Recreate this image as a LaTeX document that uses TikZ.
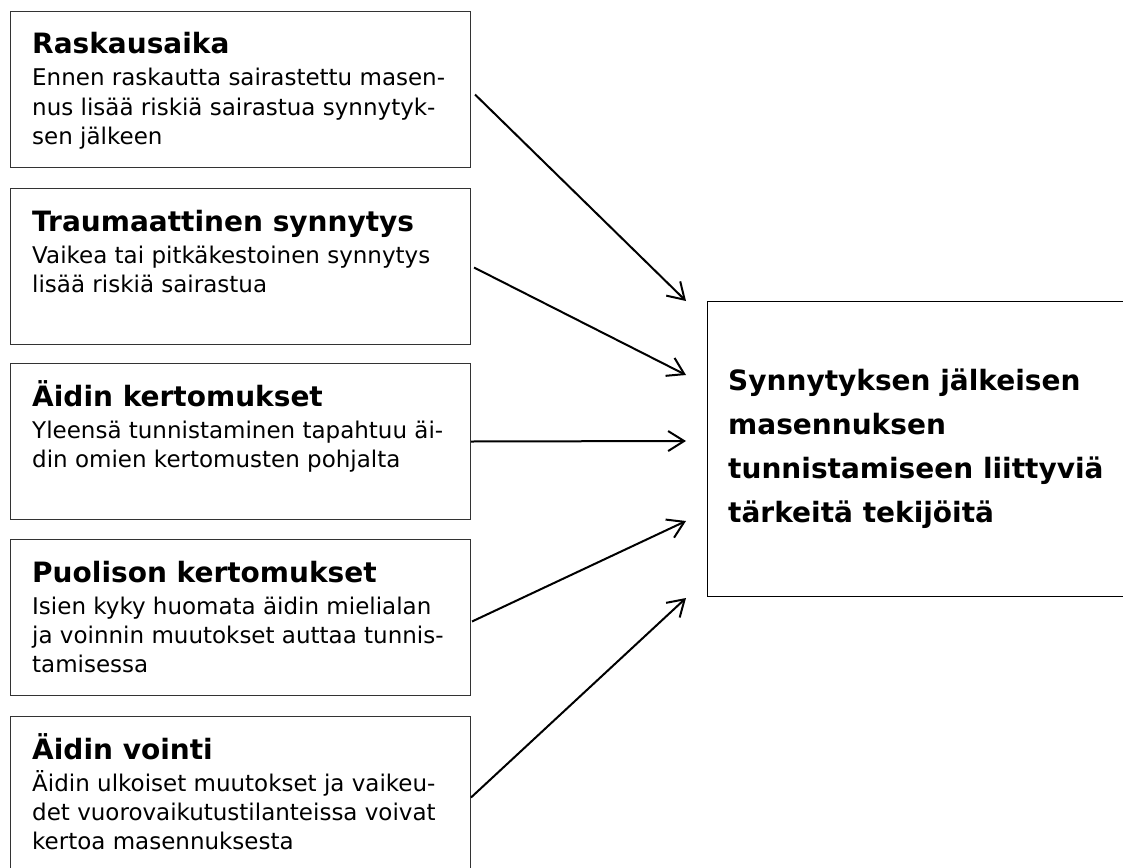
\documentclass[tikz,border=0pt]{standalone}
\usepackage{fontspec}
\setmainfont{DejaVu Sans}
\usetikzlibrary{arrows.meta}
\newcommand\tline[1]{\hbox{#1}}
\newcommand\headfont{\fontsize{28}{32}\selectfont\bfseries}
\newcommand\bodyfont{\fontsize{23}{29}\selectfont}
\newcommand\boxtext[2]{\vtop{\tline{\headfont #1}\baselineskip=32pt\bodyfont #2}}
\begin{document}
\begin{tikzpicture}[x=1pt,y=-1pt,
  factor/.style={draw=black!80, line width=1pt, rectangle, inner sep=0pt,
    minimum width=460pt, minimum height=156pt, anchor=north west},
  target/.style={draw=black, line width=1.2pt, rectangle, inner sep=0pt,
    minimum width=460pt, minimum height=295pt, anchor=north west},
  txt/.style={anchor=base west, inner sep=0pt, align=left},
  link/.style={line width=2pt, -{Straight Barb[length=16pt,width=20pt,line width=2pt]}}]
\useasboundingbox (0,0) rectangle (1123,867);
\clip (0,0) rectangle (1123,867);
\fill[white] (0,0) rectangle (1123,867);

\node[factor] (b1) at (10,11) {};
\node[factor] (b2) at (10,188) {};
\node[factor] (b3) at (10,363) {};
\node[factor] (b4) at (10,539) {};
\node[factor] (b5) at (10,716) {};
\node[target] (rb) at (707,301) {};

\node[txt] (t1) at (32,54) {\boxtext{Raskausaika}{%
  \baselineskip=32pt\tline{Ennen raskautta sairastettu masen-}\baselineskip=29pt
  \tline{nus lisää riskiä sairastua synnytyk-}\tline{sen jälkeen}}};
\node[txt] (t2) at (32,231) {\boxtext{Traumaattinen synnytys}{%
  \baselineskip=32pt\tline{Vaikea tai pitkäkestoinen synnytys}\baselineskip=29pt
  \tline{lisää riskiä sairastua}}};
\node[txt] (t3) at (32,406) {\boxtext{Äidin kertomukset}{%
  \baselineskip=32pt\tline{Yleensä tunnistaminen tapahtuu äi-}\baselineskip=29pt
  \tline{din omien kertomusten pohjalta}}};
\node[txt] (t4) at (32,582) {\boxtext{Puolison kertomukset}{%
  \baselineskip=32pt\tline{Isien kyky huomata äidin mielialan}\baselineskip=29pt
  \tline{ja voinnin muutokset auttaa tunnis-}\tline{tamisessa}}};
\node[txt] (t5) at (32,759) {\boxtext{Äidin vointi}{%
  \baselineskip=32pt\tline{Äidin ulkoiset muutokset ja vaikeu-}\baselineskip=29pt
  \tline{det vuorovaikutustilanteissa voivat}\tline{kertoa masennuksesta}}};

\node[txt] (rt) at (728,390) {\vtop{\headfont\baselineskip=44pt
  \tline{Synnytyksen jälkeisen}\tline{masennuksen}\tline{tunnistamiseen liittyviä}\tline{tärkeitä tekijöitä}}};

\coordinate (s1) at ([xshift=4pt,yshift=-5pt]b1.east);
\coordinate (s2) at ([xshift=3pt,yshift=-1pt]b2.east);
\coordinate (s3) at (b3.east);
\coordinate (s4) at ([xshift=1pt,yshift=-4pt]b4.east);
\coordinate (s5) at ([yshift=-3pt]b5.east);
\coordinate (e1) at ([xshift=-21pt]rb.north west);
\coordinate (e2) at ([xshift=-21pt,yshift=-74pt]rb.north west);
\coordinate (e3) at ([xshift=-21pt,yshift=-140pt]rb.north west);
\coordinate (e4) at ([xshift=-21pt,yshift=-220pt]rb.north west);
\coordinate (e5) at ([xshift=-21pt,yshift=-297pt]rb.north west);
\draw[link] (s1) -- (e1);
\draw[link] (s2) -- (e2);
\draw[link] (s3) -- (e3);
\draw[link] (s4) -- (e4);
\draw[link] (s5) -- (e5);
\end{tikzpicture}
\end{document}
